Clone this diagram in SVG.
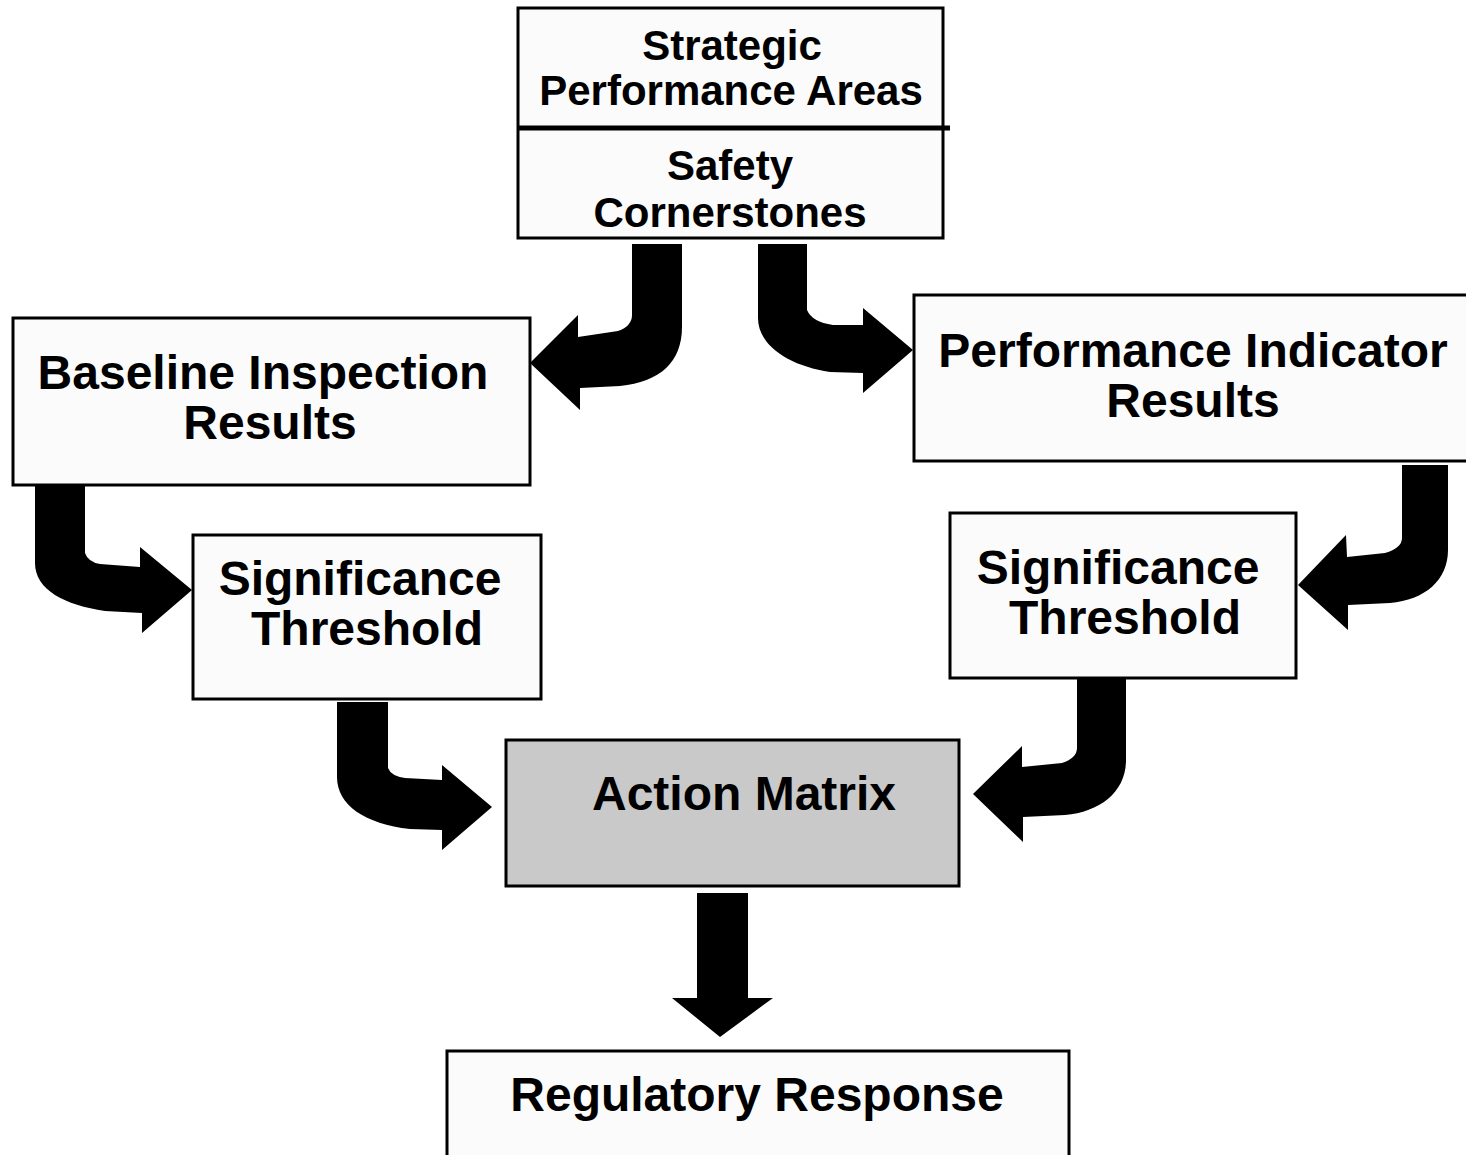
<svg xmlns="http://www.w3.org/2000/svg" width="1466" height="1155" viewBox="0 0 1466 1155">
<style>
.box{fill:#fbfbfb;stroke:#000;stroke-width:3}
.gray{fill:#c9c9c9;stroke:#000;stroke-width:3}
.t{font-family:"Liberation Sans",Arial,sans-serif;font-weight:bold;fill:#000;text-anchor:middle}
.s42{font-size:42px}
.s48{font-size:48px}
.arr{fill:#000;stroke:none}
</style>
<rect width="1466" height="1155" fill="#fff"/>
<g id="strategic">
<rect class="box" x="518" y="8" width="425" height="230"/>
<line x1="518" y1="128" x2="950" y2="128" stroke="#000" stroke-width="5"/>
<text class="t s42" x="732" y="60">Strategic</text>
<text class="t s42" x="731" y="105">Performance Areas</text>
<text class="t s42" x="730" y="180">Safety</text>
<text class="t s42" x="730" y="227">Cornerstones</text>
</g>
<g id="baseline">
<rect class="box" x="13" y="318" width="517" height="167"/>
<text class="t s48" x="263" y="389">Baseline Inspection</text>
<text class="t s48" x="270" y="439">Results</text>
</g>
<g id="pi">
<rect class="box" x="914" y="295" width="560" height="166"/>
<text class="t s48" x="1193" y="367">Performance Indicator</text>
<text class="t s48" x="1193" y="417">Results</text>
</g>
<g id="sig-left">
<rect class="box" x="193" y="535" width="348" height="164"/>
<text class="t s48" x="360" y="595">Significance</text>
<text class="t s48" x="367" y="645">Threshold</text>
</g>
<g id="sig-right">
<rect class="box" x="950" y="513" width="346" height="165"/>
<text class="t s48" x="1118" y="584">Significance</text>
<text class="t s48" x="1125" y="634">Threshold</text>
</g>
<g id="action">
<rect class="gray" x="506" y="740" width="453" height="146"/>
<text class="t s48" x="744" y="810">Action Matrix</text>
</g>
<g id="regulatory">
<rect class="box" x="447" y="1051" width="622" height="120"/>
<text class="t s48" x="757" y="1111">Regulatory Response</text>
</g>
<g id="connectors">
<path class="arr" d="M632,244 L682,244 L682,327 C682,362 660,382 620,386 L580,388 L580,410 L530,363 L578,315 L578,337 L618,331 Q632,326 632,315 Z"/>
<path class="arr" d="M758,244 L807,244 L807,310 Q812,322 833,325 L863,325 L863,308 L913,350 L863,393 L863,373 L830,372 C790,366 758,346 758,318 Z"/>
<path class="arr" d="M35,485 L85,485 L85,553 Q88,562 100,564 L140,567 L140,547 L192,590 L142,633 L142,613 L105,611 C65,605 35,590 35,563 Z"/>
<path class="arr" d="M1402,465 L1448,465 L1448,550 C1448,580 1425,600 1390,603 L1348,605 L1348,630 L1298,585 L1346,535 L1347,557 L1385,553 Q1402,548 1402,538 Z"/>
<path class="arr" d="M337,702 L388,702 L388,768 Q391,776 405,778 L442,780 L442,765 L492,807 L442,850 L442,830 L410,829 C365,824 337,805 337,777 Z"/>
<path class="arr" d="M1077,678 L1126,678 L1126,760 C1126,792 1100,812 1065,815 L1023,817 L1023,842 L973,794 L1022,746 L1022,767 L1062,763 Q1077,758 1077,748 Z"/>
<path class="arr" d="M697,893 L748,893 L748,998 L773,998 L720,1037 L672,998 L697,998 Z"/>
</g>
</svg>
